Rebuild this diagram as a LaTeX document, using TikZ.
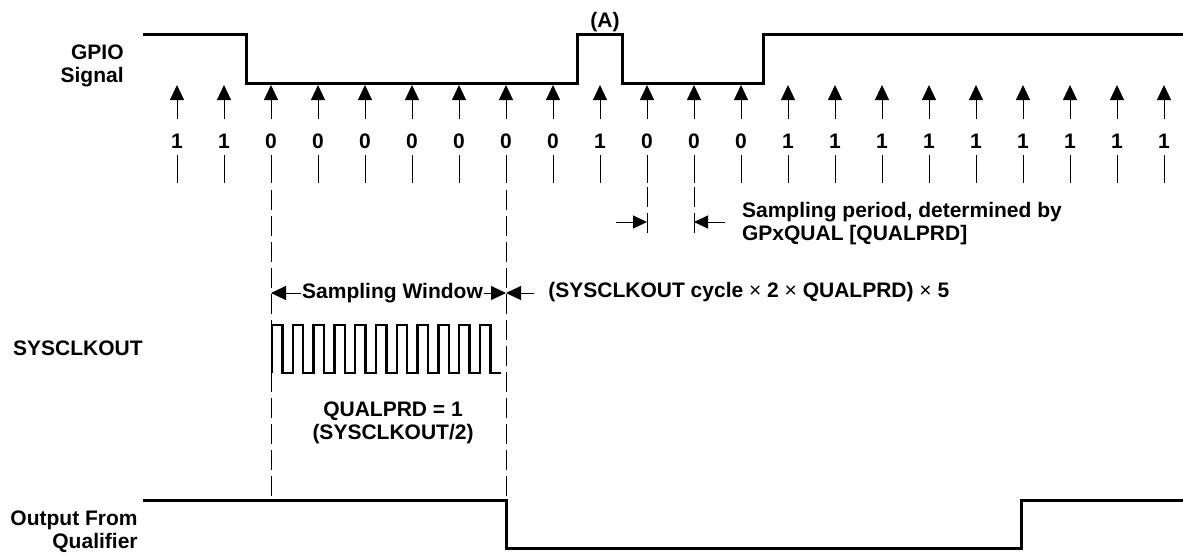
\documentclass[tikz,border=0pt]{standalone}
\usepackage{fontspec}
\setmainfont{Liberation Sans}
\usetikzlibrary{arrows.meta}

\begin{document}
\begin{tikzpicture}[x=0.5pt, y=-0.5pt,
  font=\fontsize{10.5}{11.5}\selectfont\bfseries,
  >={Triangle[length=7.5pt,width=7pt]},
  sig/.style={line width=1.5pt},
  fine/.style={line width=0.5pt},
  guide/.style={line width=0.5pt, dash pattern=on 10pt off 3pt},
  lbl/.style={align=right, anchor=east, inner sep=0pt},
  note/.style={align=left, anchor=west, inner sep=0pt},
]
\useasboundingbox (0,0) rectangle (1183,554);

% signal names
\node[lbl] (gpio)   at (124,65.5)  {GPIO\\Signal};
\node[lbl] (sysclk) at (143,348)   {SYSCLKOUT};
\node[lbl] (outq)   at (138,531.5) {Output From\\Qualifier};

% gpio signal with glitch (A)
\draw[sig] (143,34.5) -- (246,34.5) -- (246,83) -- (577.5,83) -- (577.5,34.5)
  -- (622.7,34.5) -- (622.7,83) -- (763,83) -- (763,34.5) -- (1183,34.5);
\node (glitch) at (605,21.7) {(A)};

% sample points
\foreach \b [count=\i from 0] in {1,1,0,0,0,0,0,0,0,1,0,0,0,1,1,1,1,1,1,1,1,1} {
  \pgfmathsetmacro\x{177+47*\i}
  \coordinate (tip\i)  at (\x,85);
  \coordinate (tail\i) at (\x,119);
  \coordinate (tka\i)  at (\x,155);
  \coordinate (tkb\i)  at (\x,183);
  \node (bit\i) at (\x,141) {\b};
  \draw[fine, ->] (tail\i) -- (tip\i);
  \draw[fine] (tka\i) -- (tkb\i);
}

% sampling period
\coordinate (pa) at (647,187);  \coordinate (pb) at (647,235);
\coordinate (pc) at (694,187);  \coordinate (pd) at (694,235);
\draw[guide] (pa) -- (pb);
\draw[guide] (pc) -- (pd);
\node[note] (period) at (741.7,223.5) {Sampling period, determined by\\GPxQUAL [QUALPRD]};
\draw[fine, ->, >={Triangle[length=7pt,width=6.5pt]}] (616,222) -- (pa |- 0,222);
\draw[fine, ->, >={Triangle[length=7pt,width=6.5pt]}] (725,222) -- (pc |- 0,222);

% sampling window
\coordinate (w1) at (271,190);  \coordinate (w1b) at (271,500);
\coordinate (w2) at (506,190);  \coordinate (w2b) at (506,500);
\draw[guide] (w1) -- (w1b);
\draw[guide] (w2) -- (w2b);
\node[inner sep=0.5pt] (win) at (392.5,293) {Sampling Window};
\node[note] (cyc) at (548,292) {(SYSCLKOUT cycle {\mdseries ×} 2 {\mdseries ×} QUALPRD) {\mdseries ×} 5};
\draw[fine, ->] (win.west) -- (w1 |- win);
\draw[fine, ->] (win.east) -- (w2 |- win);
\draw[fine, ->] ([xshift=-7pt]cyc.west |- win) -- (w2 |- win);

% sysclkout
\draw[line width=1.2pt] (272,373) foreach \k in {0,...,10} {
  -- ++(0,-48) -- ++(10.4,0) -- ++(0,48) -- ++(10.4,0) };
\node[align=center] (qual) at (393,422.5) {QUALPRD = 1\\(SYSCLKOUT/2)};

% qualifier output
\draw[sig] (143,500) -- (w2b) -- (506,548) -- (1021,548) -- (1021,500) -- (1183,500);
\end{tikzpicture}
\end{document}
